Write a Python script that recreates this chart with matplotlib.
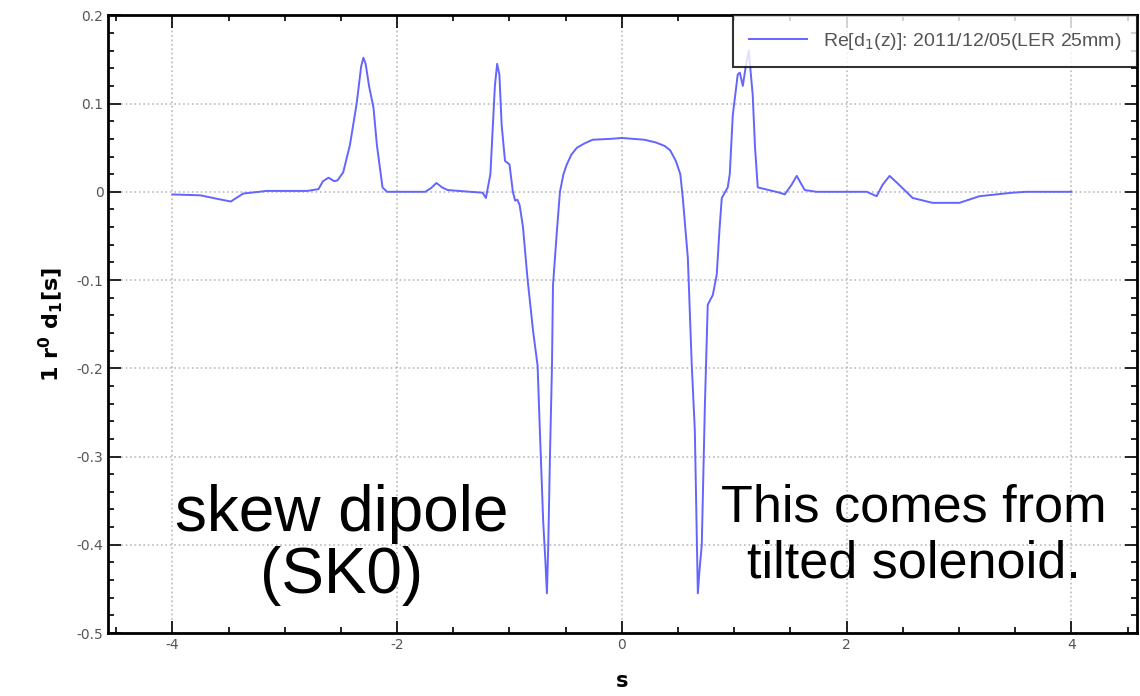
import matplotlib
matplotlib.use('Agg')
import matplotlib.pyplot as plt
from matplotlib.ticker import MultipleLocator, FuncFormatter

# trace (s, Re d1)
s_vals = [-4.0, -3.75, -3.6, -3.48, -3.37, -3.16, -2.8, -2.70, -2.66, -2.61, -2.56,
          -2.53, -2.48, -2.42, -2.36, -2.32, -2.30, -2.28, -2.25, -2.21, -2.18, -2.13,
          -2.09, -1.75, -1.70, -1.65, -1.60, -1.55, -1.35, -1.24, -1.21, -1.17, -1.15,
          -1.13, -1.11, -1.09, -1.07, -1.04, -1.0, -0.97, -0.95, -0.93, -0.91, -0.88,
          -0.84, -0.79, -0.75, -0.73, -0.70, -0.68, -0.667, -0.655, -0.64, -0.622,
          -0.613, -0.578, -0.551, -0.52, -0.49, -0.45, -0.40, -0.33, -0.26, -0.1, 0.0,
          0.1, 0.2, 0.3, 0.38, 0.43, 0.48, 0.52, 0.542, 0.587, 0.622, 0.649, 0.665,
          0.676, 0.69, 0.711, 0.738, 0.764, 0.809, 0.844, 0.87, 0.889, 0.942, 0.96,
          0.987, 1.031, 1.05, 1.076, 1.10, 1.129, 1.164, 1.185, 1.209, 1.404, 1.449,
          1.51, 1.556, 1.60, 1.627, 1.733, 2.178, 2.267, 2.32, 2.382, 2.45, 2.587,
          2.764, 3.004, 3.182, 3.476, 3.6, 4.0]
d1_vals = [-0.003, -0.004, -0.008, -0.011, -0.002, 0.001, 0.001, 0.003, 0.012, 0.016,
           0.012, 0.013, 0.022, 0.053, 0.10, 0.142, 0.152, 0.145, 0.12, 0.095, 0.053,
           0.005, 0.0, 0.0, 0.004, 0.01, 0.005, 0.002, 0.0, -0.001, -0.007, 0.02, 0.07,
           0.12, 0.145, 0.133, 0.076, 0.035, 0.031, 0.0, -0.01, -0.009, -0.015, -0.04,
           -0.098, -0.158, -0.197, -0.27, -0.374, -0.42, -0.455, -0.40, -0.30, -0.197,
           -0.106, -0.044, 0.0, 0.02, 0.031, 0.042, 0.05, 0.055, 0.059, 0.060, 0.061,
           0.060, 0.059, 0.056, 0.052, 0.047, 0.035, 0.02, -0.007, -0.075, -0.197,
           -0.27, -0.38, -0.455, -0.43, -0.40, -0.245, -0.128, -0.117, -0.094, -0.04,
           -0.007, 0.005, 0.02, 0.087, 0.133, 0.135, 0.12, 0.14, 0.16, 0.11, 0.05,
           0.005, -0.001, -0.003, 0.008, 0.018, 0.008, 0.002, 0.0, 0.0, -0.005, 0.008,
           0.018, 0.01, -0.007, -0.0125, -0.0125, -0.005, -0.001, 0.0, 0.0]

legend_label = 'Re[d$_1$(z)]: 2011/12/05(LER 25mm)'

fig = plt.figure(figsize=(11.4, 6.96), dpi=100)
ax = fig.add_axes([0.095, 0.0905, 0.902, 0.8875])

ax.plot(s_vals, d1_vals, color='#6464ff', lw=1.4, label=legend_label)

ax.set_xlim(-4.57, 4.58)
ax.set_ylim(-0.5, 0.2)
ax.xaxis.set_major_locator(MultipleLocator(2))
ax.xaxis.set_minor_locator(MultipleLocator(0.5))
ax.yaxis.set_major_locator(MultipleLocator(0.1))
ax.yaxis.set_minor_locator(MultipleLocator(0.02))
ax.tick_params(which='both', direction='in', top=True, right=True,
               labelsize=10, labelcolor='#555555', width=1.2)
ax.tick_params(which='major', length=9)
ax.tick_params(which='minor', length=4)
ax.yaxis.set_major_formatter(FuncFormatter(lambda v, p: f'{round(v, 2):g}'))
ax.xaxis.set_major_formatter(FuncFormatter(lambda v, p: f'{round(v, 2):g}'))
ax.grid(True, which='major', color='#bbbbbb', ls=':', lw=1.2)
for sp in ax.spines.values():
    sp.set_linewidth(2)

ax.set_xlabel('s', fontsize=15, fontweight='bold', labelpad=14)
ax.set_ylabel('1 r$^{\\mathbf{0}}$ d$_{\\mathbf{1}}$[s]', fontsize=16,
              fontweight='bold', labelpad=8)

leg = ax.legend(loc='upper right', prop={'family': 'Liberation Sans', 'size': 14},
                frameon=True, fancybox=False, borderaxespad=0.0, handlelength=3.0,
                borderpad=0.8)
leg.get_frame().set_edgecolor('black')
leg.get_frame().set_linewidth(1.5)
for t in leg.get_texts():
    t.set_color('#555555')

ax.text(-2.49, -0.40, 'skew dipole\n(SK0)', fontsize=46, family='Liberation Sans',
        ha='center', va='center', linespacing=1.05)
ax.text(2.6, -0.39, 'This comes from\ntilted solenoid.', fontsize=37.5,
        family='Liberation Sans', ha='center', va='center', linespacing=1.2)

fig.savefig('out.png', dpi=100)
